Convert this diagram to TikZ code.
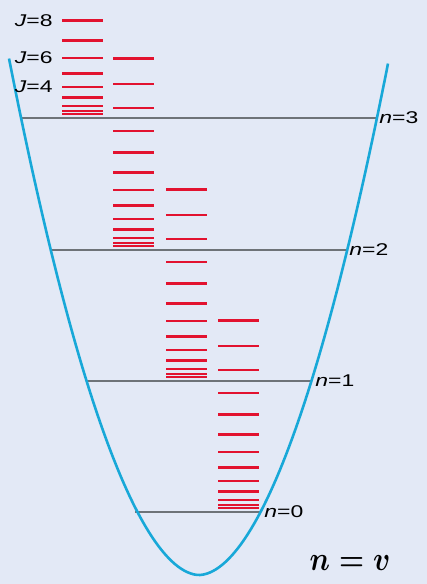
\documentclass[tikz,border=0pt]{standalone}
\usepackage{fontspec}
\setmainfont{Liberation Sans}
\usetikzlibrary{positioning}

\definecolor{bgblue}{HTML}{E3E9F6}
\definecolor{wellblue}{HTML}{18A8D8}
\definecolor{rotred}{HTML}{E2122F}
\definecolor{levgray}{HTML}{6E7378}

\newcommand{\widetext}[1]{\scalebox{1.35}[1]{#1}}

\begin{document}
\begin{tikzpicture}[x=1pt,y=-1pt,inner sep=0.4mm,
  level/.style={draw=levgray,line width=2.4pt},
  rotline/.style={draw=rotred,line width=2.4pt},
  lab/.style={font=\fontsize{17}{19}\selectfont},
  eqlab/.style={font=\fontsize{24.88}{28}\selectfont\boldmath}]
\fill[bgblue] (0,0) rectangle (427,584);
\useasboundingbox (0,0) rectangle (427,584);

% rotational ladders J=0..Jmax above each vibrational level
\foreach \col/\xa/\base/\jmax in {1/62/114/8, 2/113/246/12, 3/166/377/12, 4/218/508/12} {
  \foreach \j in {0,...,\jmax} {
    \pgfmathsetmacro{\jj}{\j*(\j+1)}
    \pgfmathsetmacro{\yj}{\base-\jj*(1.38-0.00115*\jj)}
    \coordinate (r\col-\j) at (\xa,\yj);
    \draw[rotline] (r\col-\j) -- ++(41,0);
  }
}

% vibrational levels
\coordinate (n3l) at (20,118);  \coordinate (n3r) at (376,118);
\coordinate (n2l) at (50,250);  \coordinate (n2r) at (346,250);
\coordinate (n1l) at (87,381);  \coordinate (n1r) at (312,381);
\coordinate (n0l) at (135,512); \coordinate (n0r) at (261,512);
\draw[level] (n3l) -- (n3r);
\draw[level] (n2l) -- (n2r);
\draw[level] (n1l) -- (n1r);
\draw[level] (n0l) -- (n0r);

% potential well
\draw[wellblue,line width=2.6pt] plot[domain=-190:189,samples=120]
  ({199+\x},{575-62*pow(abs(\x)/61,1.866)});

\node[lab,right=2pt of n3r] {\widetext{\textit{n}=3}};
\node[lab,right=2pt of n2r] {\widetext{\textit{n}=2}};
\node[lab,right=2pt of n1r] {\widetext{\textit{n}=1}};
\node[lab,right=2pt of n0r] {\widetext{\textit{n}=0}};

\node[lab,left=8pt of r1-8] {\widetext{\textit{J}=8}};
\node[lab,left=8pt of r1-6] {\widetext{\textit{J}=6}};
\node[lab,left=8pt of r1-4] {\widetext{\textit{J}=4}};

\node[eqlab] (nv) at (350,563) {\scalebox{1.15}[1.35]{$n=v$}};
\end{tikzpicture}
\end{document}
